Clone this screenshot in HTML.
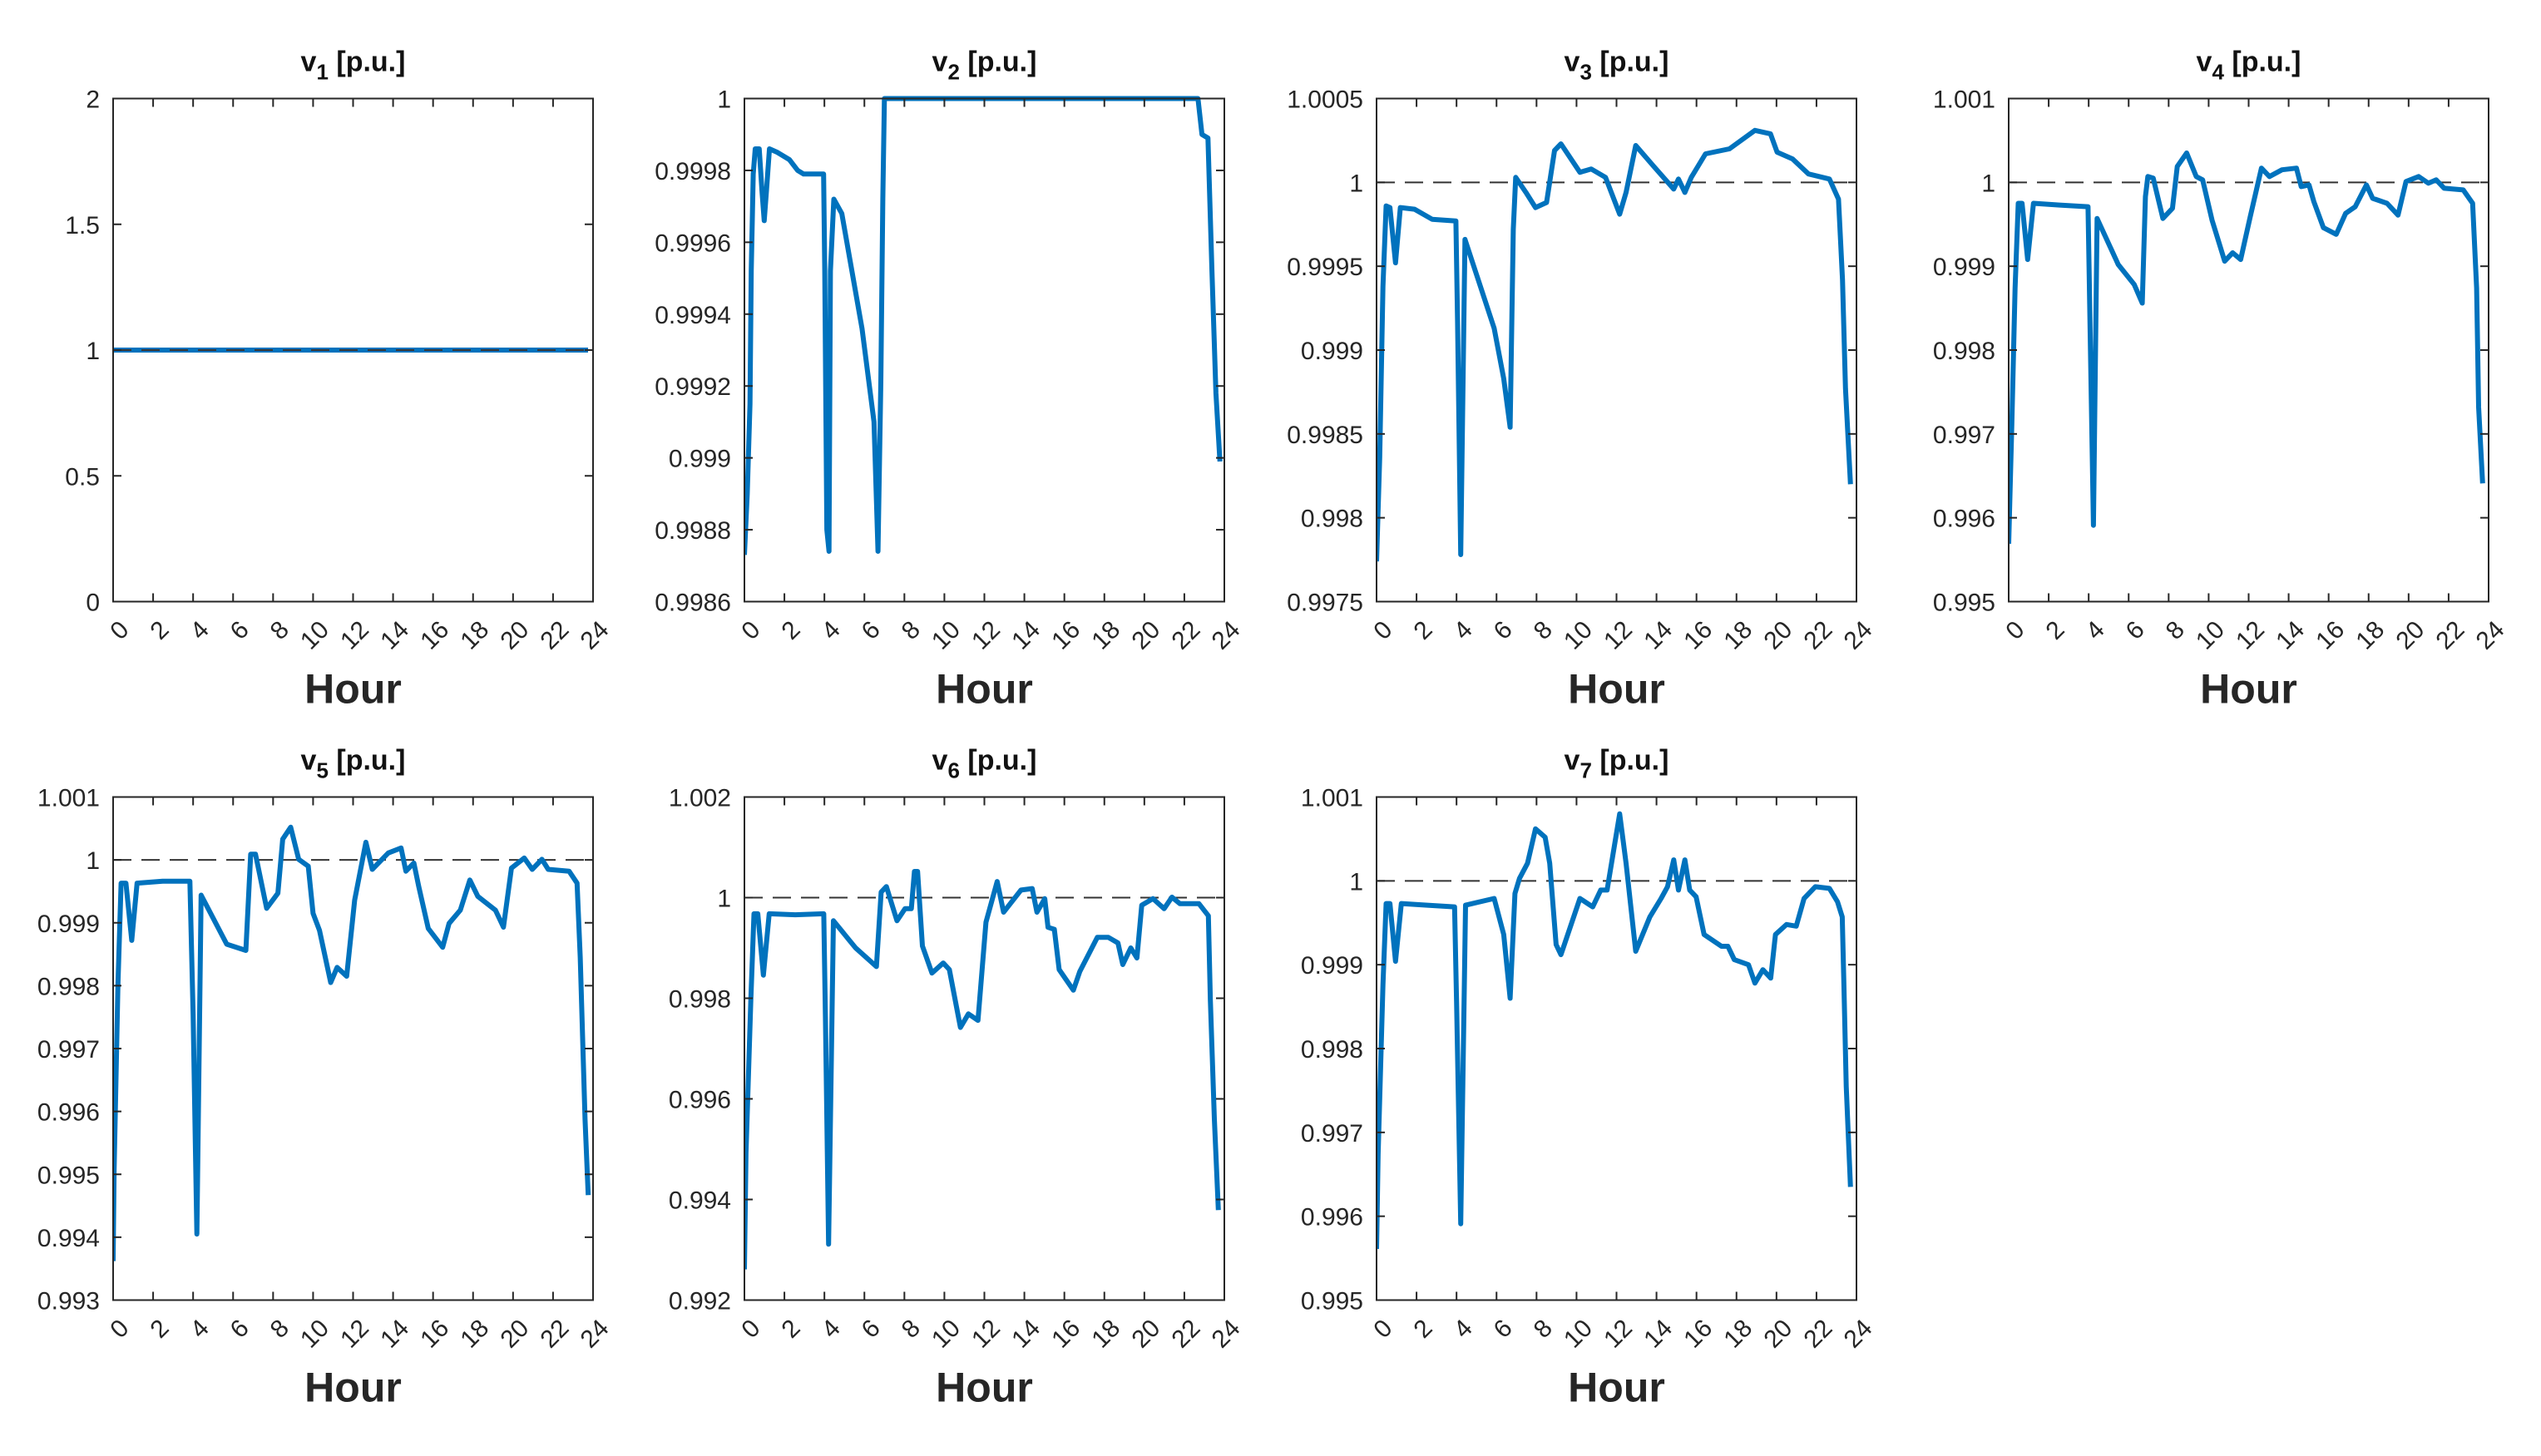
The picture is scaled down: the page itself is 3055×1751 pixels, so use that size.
<!DOCTYPE html>
<html><head><meta charset="utf-8"><style>
html,body{margin:0;padding:0;background:#fff;}
svg{display:block;font-family:"Liberation Sans",Arial,sans-serif;}
</style></head><body>
<svg id="chart" width="3055" height="1751" viewBox="0 0 3055 1751" xmlns="http://www.w3.org/2000/svg"></svg>
<script>
// ---- data (hour, voltage p.u.) ----
const h1 = [0, 23.75];
const v1 = [1, 1];
const h2 = [0,0.14,0.28,0.34,0.44,0.54,0.74,0.88,0.99,1.1,1.25,1.65,2.25,2.66,2.96,3.96,4.02,4.12,4.23,4.3,4.47,4.87,5.88,6.48,6.68,6.82,6.92,7.0,22.68,22.88,23.18,23.38,23.58,23.78];
const v2 = [0.99873,0.9989,0.99915,0.99952,0.99979,0.99986,0.99986,0.99974,0.99966,0.99974,0.99986,0.99985,0.99983,0.9998,0.99979,0.99979,0.99952,0.9988,0.99874,0.99952,0.99972,0.99968,0.99936,0.9991,0.99874,0.99921,0.99972,1.0,1.0,0.9999,0.99989,0.99952,0.99918,0.99899];
const h3 = [0,0.16,0.32,0.48,0.67,0.95,1.19,1.9,2.78,3.97,4.05,4.21,4.42,5.88,6.36,6.68,6.84,6.96,7.47,7.95,8.5,8.9,9.22,10.17,10.73,11.45,12.16,12.48,12.96,13.83,14.86,15.1,15.42,15.74,16.45,17.65,18.92,19.7,20.03,20.8,21.6,22.65,23.1,23.3,23.45,23.7];
const v3 = [0.99774,0.99836,0.99938,0.99986,0.99985,0.99952,0.99985,0.99984,0.99978,0.99977,0.99917,0.99778,0.99966,0.99913,0.99883,0.99854,0.99972,1.00003,0.99994,0.99985,0.99988,1.00019,1.00023,1.00006,1.00008,1.00003,0.99981,0.99994,1.00022,1.0001,0.99996,1.00002,0.99994,1.00003,1.00017,1.0002,1.00031,1.00029,1.00018,1.00014,1.00005,1.00002,0.9999,0.99942,0.99877,0.9982];
const h4 = [0,0.16,0.32,0.48,0.67,0.95,1.24,2.54,3.97,4.05,4.24,4.42,5.48,6.28,6.68,6.84,6.96,7.23,7.71,8.19,8.43,8.9,9.38,9.7,10.17,10.8,11.2,11.6,12.08,12.64,13.04,13.67,14.39,14.63,15.02,15.26,15.74,16.38,16.85,17.33,17.89,18.2,18.92,19.47,19.87,20.5,20.99,21.38,21.78,22.73,23.2,23.4,23.5,23.7];
const v4 = [0.99569,0.99712,0.99874,0.99975,0.99975,0.99908,0.99975,0.99973,0.99971,0.99854,0.99591,0.99957,0.99902,0.99878,0.99856,0.99983,1.00007,1.00005,0.99957,0.99969,1.00019,1.00035,1.00007,1.00003,0.99955,0.99906,0.99916,0.99908,0.99959,1.00017,1.00007,1.00015,1.00017,0.99995,0.99997,0.99977,0.99946,0.99938,0.99963,0.99971,0.99997,0.99981,0.99975,0.99961,1.00001,1.00007,0.99999,1.00003,0.99993,0.99991,0.99975,0.99874,0.99732,0.99641];
const h5 = [0,0.05,0.24,0.4,0.64,0.93,1.2,2.48,3.84,4.0,4.19,4.4,5.68,6.64,6.88,7.12,7.68,8.24,8.48,8.88,9.28,9.76,10.0,10.32,10.88,11.2,11.68,12.08,12.64,12.96,13.76,14.4,14.64,15.04,15.28,15.76,16.48,16.8,17.36,17.84,18.24,19.12,19.52,19.92,20.56,20.96,21.44,21.76,22.8,23.2,23.36,23.6,23.76];
const v5 = [0.99362,0.99507,0.99802,0.99963,0.99963,0.99872,0.99963,0.99966,0.99966,0.99754,0.99405,0.99944,0.99866,0.99856,1.00009,1.00009,0.99923,0.99947,1.00033,1.00052,1.00001,0.9999,0.99915,0.99888,0.99805,0.99829,0.99815,0.99936,1.00028,0.99985,1.00011,1.00019,0.99982,0.99995,0.99958,0.99891,0.99861,0.99899,0.9992,0.99968,0.99942,0.9992,0.99893,0.99987,1.00003,0.99985,1.00001,0.99985,0.99982,0.99963,0.99845,0.99587,0.99467];
const h6 = [0,0.08,0.32,0.48,0.67,0.95,1.24,2.54,3.97,4.05,4.21,4.45,5.56,6.6,6.84,7.1,7.63,8.03,8.35,8.5,8.66,8.9,9.38,9.94,10.25,10.8,11.2,11.68,12.08,12.64,12.96,13.83,14.39,14.63,15.02,15.18,15.5,15.74,16.45,16.77,17.65,18.2,18.68,18.92,19.32,19.63,19.87,20.43,20.99,21.38,21.78,22.73,23.2,23.3,23.5,23.7];
const v6 = [0.99261,0.99493,0.99796,0.99968,0.99968,0.99846,0.99968,0.99966,0.99968,0.99762,0.99311,0.99954,0.9990,0.99863,1.00011,1.00022,0.99954,0.99978,0.99978,1.00052,1.00052,0.99904,0.9985,0.9987,0.99857,0.99742,0.99769,0.99756,0.99951,1.00032,0.99971,1.00015,1.00018,0.99971,0.99998,0.99941,0.99937,0.99857,0.99816,0.99853,0.99921,0.99921,0.9991,0.99867,0.999,0.9988,0.99985,0.99998,0.99978,1.00001,0.99988,0.99988,0.99964,0.99796,0.9956,0.99379];
const h7 = [0,0.08,0.32,0.48,0.67,0.95,1.24,2.54,3.9,4.0,4.21,4.45,5.88,6.36,6.68,6.92,7.15,7.55,7.95,8.43,8.66,8.98,9.22,10.17,10.81,11.21,11.53,12.16,12.48,12.96,13.67,14.23,14.55,14.86,15.1,15.42,15.66,15.98,16.38,17.25,17.57,17.89,18.6,18.92,19.32,19.71,19.95,20.5,20.99,21.38,21.94,22.65,23.05,23.29,23.37,23.49,23.7];
const v7 = [0.99561,0.99674,0.99876,0.99973,0.99973,0.99904,0.99973,0.99971,0.99969,0.99856,0.99591,0.99971,0.99979,0.99936,0.9986,0.99985,1.00003,1.00021,1.00062,1.00052,1.00021,0.99924,0.99912,0.99979,0.99969,0.99989,0.99989,1.0008,1.00021,0.99916,0.99957,0.99979,0.99993,1.00025,0.99989,1.00025,0.99989,0.99981,0.99936,0.99922,0.99922,0.99906,0.999,0.99878,0.99894,0.99884,0.99936,0.99948,0.99946,0.99979,0.99993,0.99991,0.99975,0.99957,0.99876,0.99755,0.99635];
// tick labels
const xTicks = [0,2,4,6,8,10,12,14,16,18,20,22,24];
const yTicks1 = ["0","0.5","1","1.5","2"];
const yTicks2 = ["0.9986","0.9988","0.999","0.9992","0.9994","0.9996","0.9998","1"];
const yTicks3 = ["0.9975","0.998","0.9985","0.999","0.9995","1","1.0005"];
const yTicks4 = ["0.995","0.996","0.997","0.998","0.999","1","1.001"];
const yTicks5 = ["0.993","0.994","0.995","0.996","0.997","0.998","0.999","1","1.001"];
const yTicks6 = ["0.992","0.994","0.996","0.998","1","1.002"];
const yTicks7 = ["0.995","0.996","0.997","0.998","0.999","1","1.001"];

const NS = "http://www.w3.org/2000/svg";
const svg = document.getElementById('chart');
function mk(tag, attrs, parent){
  const e = document.createElementNS(NS, tag);
  for (const k in attrs) e.setAttribute(k, attrs[k]);
  (parent||svg).appendChild(e);
  return e;
}
const W = 577, H = 605;
const panels = [
  {n:1, left:136, top:118.5, hs:h1, vs:v1, yt:yTicks1, dash:true},
  {n:2, left:895, top:118.5, hs:h2, vs:v2, yt:yTicks2, dash:false},
  {n:3, left:1655, top:118.5, hs:h3, vs:v3, yt:yTicks3, dash:true},
  {n:4, left:2415, top:118.5, hs:h4, vs:v4, yt:yTicks4, dash:true},
  {n:5, left:136, top:958.5, hs:h5, vs:v5, yt:yTicks5, dash:true},
  {n:6, left:895, top:958.5, hs:h6, vs:v6, yt:yTicks6, dash:true},
  {n:7, left:1655, top:958.5, hs:h7, vs:v7, yt:yTicks7, dash:true}
];
panels.forEach(p => {
  const g = mk('g', {});
  
  
  const ymin = parseFloat(p.yt[0]), ymax = parseFloat(p.yt[p.yt.length-1]);
  const xs = h => p.left + h / 24 * W;
  const ys = v => p.top + H - (v - ymin) / (ymax - ymin) * H;
  const bottom = p.top + H, right = p.left + W;
  const cx = p.left + W/2;
  const t = mk('text', {x:cx, y:p.top-33, 'text-anchor':'middle', 'font-size':34, 'font-weight':'bold', fill:'#111'}, g);
  
  
  t.innerHTML = 'v<tspan dy="10" font-size="26">' + p.n + '</tspan><tspan dy="-10"> [p.u.]</tspan>';
  const cp = mk('clipPath', {id:'clip'+p.n}, g);
  mk('rect', {x:p.left, y:p.top-3, width:W, height:H+6}, cp);
  if (p.dash) {
    const d = mk('line', {x1:p.left, x2:right, y1:ys(1), y2:ys(1), stroke:'#333', 'stroke-width':2, 'stroke-dasharray':'22,12'}, g);
    
    
  }
  let dstr = '';
  p.hs.forEach((h,i) => { dstr += (i ? 'L' : 'M') + xs(h).toFixed(1) + ',' + ys(p.vs[i]).toFixed(1); });
  const line = mk('path', {d:dstr, fill:'none', stroke:'#0072BD', 'stroke-width':6, 'stroke-linejoin':'round', 'clip-path':'url(#clip'+p.n+')'}, g);
  
  
  if (p.n === 1) {
    mk('line', {x1:p.left, x2:xs(23.75), y1:ys(1), y2:ys(1), stroke:'#333', 'stroke-width':2, 'stroke-dasharray':'22,12'}, g);
  }
  const box = mk('rect', {x:p.left, y:p.top, width:W, height:H, fill:'none', stroke:'#262626', 'stroke-width':2}, g);
  
  
  xTicks.forEach(v => {
    const x = xs(v);
    mk('line', {x1:x, x2:x, y1:bottom, y2:bottom-10, stroke:'#262626', 'stroke-width':2}, g);
    mk('line', {x1:x, x2:x, y1:p.top, y2:p.top+10, stroke:'#262626', 'stroke-width':2}, g);
    const lx = x + 15, ly = bottom + 30;
    const tl = mk('text', {x:lx, y:ly, 'text-anchor':'end', 'dominant-baseline':'middle', 'font-size':30, fill:'#262626', transform:'rotate(-45 '+lx+' '+ly+')'}, g);
    
    
    tl.textContent = v;
  });
  p.yt.forEach(s => {
    const y = ys(parseFloat(s));
    mk('line', {x1:p.left, x2:p.left+10, y1:y, y2:y, stroke:'#262626', 'stroke-width':2}, g);
    mk('line', {x1:right, x2:right-10, y1:y, y2:y, stroke:'#262626', 'stroke-width':2}, g);
    const tl = mk('text', {x:p.left-16, y:y+11, 'text-anchor':'end', 'font-size':30, fill:'#262626'}, g);
    
    
    tl.textContent = s;
  });
  const xl = mk('text', {x:cx, y:bottom+122, 'text-anchor':'middle', 'font-size':50, 'font-weight':'bold', fill:'#262626'}, g);
  
  
  xl.textContent = 'Hour';
});
</script>
</body></html>
